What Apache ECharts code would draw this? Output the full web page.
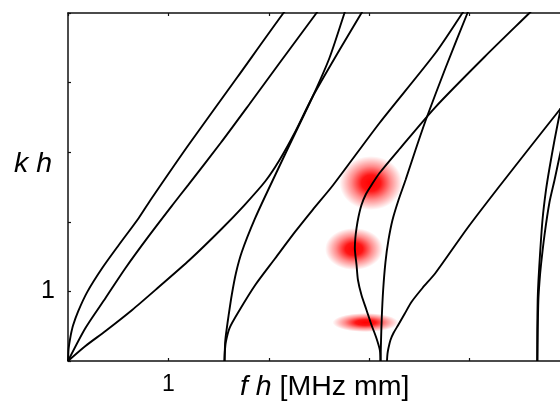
<!DOCTYPE html>
<html><head><meta charset="utf-8">
<script src="https://cdn.jsdelivr.net/npm/echarts@6/dist/echarts.min.js"></script>
<style>html,body{margin:0;padding:0;background:#fff}#c{width:560px;height:403px}</style>
</head><body><div id="c"></div>
<script>
// Axis tick labels that are shown
const xTickLabels = [1];
const yTickLabels = [1];
const xTitleItalic = 'f h';
const xTitleRest = ' [MHz mm]';
const yTitle = 'k h';

// Dispersion curves, [f h, k h]
const curveA = [[0,0],[0.005,0.16],[0.01,0.22],[0.02,0.31],[0.03,0.39],[0.05,0.51],[0.1,0.71],[0.191,0.99],[0.341,1.336],[0.506,1.667],[0.705,2.055],[0.822,2.313],[1.2,3.103],[1.688,4.08],[2.146,5.0],[2.206,5.09]];
const curveB = [[0,0],[0.174,0.474],[0.374,0.905],[0.573,1.336],[0.802,1.79],[1.041,2.241],[1.2,2.535],[1.52,3.132],[1.808,3.693],[2.107,4.282],[2.475,5.0],[2.525,5.1]];
const curveC = [[0,0],[0.174,0.216],[0.374,0.431],[0.639,0.733],[0.904,1.063],[1.21,1.451],[1.529,1.897],[1.758,2.241],[1.967,2.586],[2.107,2.888],[2.257,3.276],[2.435,3.793],[2.704,4.468],[2.923,5.0],[2.963,5.1]];
const curveS = [[1.559,0],[1.562,0.158],[1.567,0.302],[1.579,0.445],[1.599,0.647],[1.631,0.948],[1.673,1.264],[1.731,1.566],[1.865,2.055],[2.017,2.529],[2.206,3.103],[2.435,3.793],[2.604,4.353],[2.754,5.0],[2.774,5.086]];
const curveD = [[1.559,0],[1.562,0.129],[1.572,0.273],[1.609,0.474],[1.699,0.708],[1.865,1.092],[2.064,1.476],[2.263,1.858],[2.435,2.169],[2.641,2.529],[3.103,3.42],[3.66,4.425],[3.929,5.0],[3.969,5.086]];
const curveE = [[3.113,0],[3.106,0.158],[3.068,0.345],[3.023,0.517],[2.973,0.733],[2.923,0.948],[2.888,1.164],[2.874,1.379],[2.857,1.624],[2.862,1.767],[2.874,1.911],[2.893,2.069],[2.923,2.241],[2.968,2.399],[3.023,2.529],[3.103,2.701],[3.302,3.046],[3.66,3.649],[4.148,4.368],[4.596,5.0],[4.656,5.086]];
const curveF = [[3.113,0],[3.118,0.302],[3.125,0.618],[3.139,1.02],[3.162,1.422],[3.192,1.739],[3.232,2.026],[3.292,2.313],[3.362,2.601],[3.461,3.032],[3.571,3.491],[3.76,4.21],[3.979,5.0],[4.009,5.101]];
const curveG = [[3.177,0],[3.182,0.101],[3.192,0.187],[3.212,0.302],[3.242,0.402],[3.289,0.517],[3.352,0.675],[3.421,0.848],[3.531,1.049],[3.66,1.264],[3.979,1.911],[4.307,2.529],[4.596,3.06],[4.895,3.606],[5.045,3.865]];
const curveH = [[4.673,0],[4.674,0.445],[4.678,0.876],[4.686,1.164],[4.701,1.523],[4.726,2.026],[4.761,2.457],[4.796,2.773],[4.846,3.175],[4.905,3.606],[4.965,4.009],[5.025,4.397]];
const curveI = [[4.676,0],[4.679,0.445],[4.685,0.876],[4.696,1.135],[4.711,1.379],[4.746,1.81],[4.796,2.284],[4.846,2.601],[4.895,2.931],[4.955,3.319],[5.025,3.75]];
const curves = [curveA, curveB, curveC, curveS, curveD, curveE, curveF, curveG, curveH, curveI];

// Highlight spots on the backward-wave branch [f h, k h]
const spotX = [3.018, 2.849, 2.963];
const spotY = [2.557, 1.609, 0.553];
</script>
<script>
const spotSizes = [[63,54],[58,42],[66,19]];
const chart = echarts.init(document.getElementById('c'), null, {renderer:'canvas'});
const FONT = '"Liberation Sans", Arial, sans-serif';
const grad = new echarts.graphic.RadialGradient(0.5,0.5,0.5,[
  {offset:0, color:'rgba(255,0,0,1)'},
  {offset:0.3, color:'rgba(255,0,0,0.92)'},
  {offset:0.62, color:'rgba(255,0,0,0.45)'},
  {offset:1, color:'rgba(255,0,0,0)'}
]);
const axisLineStyle = {color:'#111', width:1.5};
const baseX = {type:'value', min:0, max:5, interval:1, splitLine:{show:false},
  axisLine:{show:true, onZero:false, lineStyle:axisLineStyle},
  axisTick:{show:true, inside:true, length:3, lineStyle:{color:'#111', width:1.2}}};
const baseY = {type:'value', min:0, max:5, interval:1, splitLine:{show:false},
  axisLine:{show:true, onZero:false, lineStyle:axisLineStyle},
  axisTick:{show:true, inside:true, length:3, lineStyle:{color:'#111', width:1.2}}};
const series = [];
series.push({
  type:'scatter', xAxisIndex:0, yAxisIndex:0, silent:true, z:1,
  symbol:'circle',
  data: spotX.map((x,i)=>({value:[x, spotY[i]], symbolSize: spotSizes[i]})),
  itemStyle:{color:grad, opacity:1},
  emphasis:{disabled:true}
});
curves.forEach(c=>{
  series.push({type:'line', xAxisIndex:0, yAxisIndex:0, data:c, showSymbol:false, symbol:'none',
    smooth:0.25, silent:true, z:3, clip:true,
    lineStyle:{color:'#000', width:1.9}, emphasis:{disabled:true}});
});
chart.setOption({
  animation:false,
  backgroundColor:'#fff',
  grid:{left:68, top:13, width:502, height:348, containLabel:false, outerBoundsMode:'none'},
  xAxis:[
    Object.assign({}, baseX, {position:'bottom',
      axisLabel:{show:true, margin:12, fontSize:23, color:'#000', fontFamily:FONT,
        formatter:v=> xTickLabels.includes(v) ? String(v) : ''}}),
    Object.assign({}, baseX, {position:'top', axisLabel:{show:false}})
  ],
  yAxis:[
    Object.assign({}, baseY, {position:'left',
      axisLabel:{show:true, margin:13, fontSize:25, color:'#000', fontFamily:FONT,
        formatter:v=> yTickLabels.includes(v) ? String(v) : ''}}),
    Object.assign({}, baseY, {position:'right', axisLabel:{show:false}})
  ],
  graphic:[
    {type:'text', left:14, top:150, style:{text:yTitle, font:'italic 28.5px '+FONT, fill:'#000'}},
    {type:'text', left:240, top:373, style:{
      text:'{i|'+xTitleItalic+'}{n|'+xTitleRest+'}',
      rich:{i:{fontStyle:'italic', fontSize:28.5, fontFamily:FONT, fill:'#000', color:'#000'},
            n:{fontSize:28.5, fontFamily:FONT, fill:'#000', color:'#000'}}}}
  ],
  series: series
});
</script>
</body></html>
